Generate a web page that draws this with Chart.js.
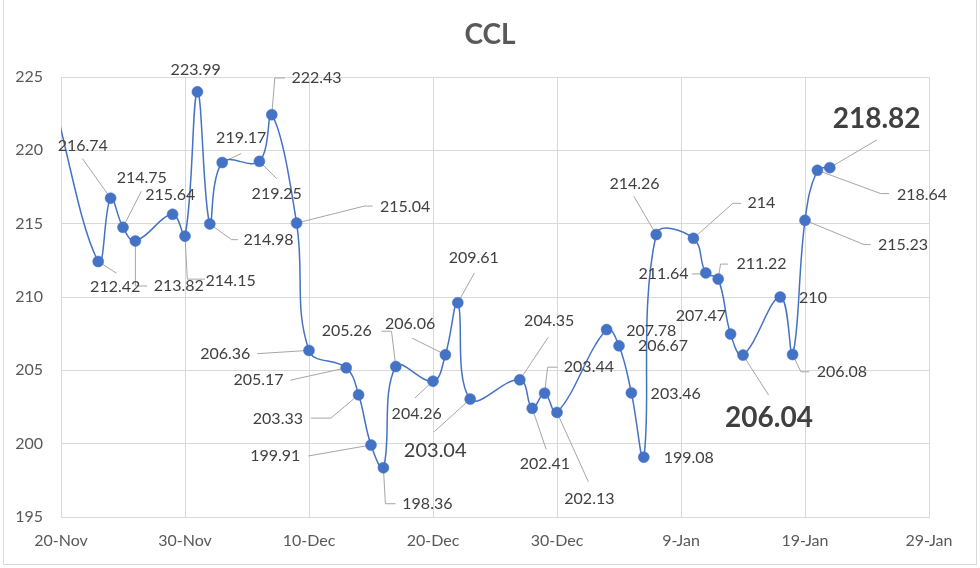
<!DOCTYPE html>
<html><head><meta charset="utf-8">
<script src="https://cdn.jsdelivr.net/npm/chart.js@4.4.1/dist/chart.umd.min.js"></script>
<style>html,body{margin:0;padding:0;background:#fff}#wrap{width:980px;height:568px;position:relative}canvas{display:block}</style>
</head><body><div id="wrap"><canvas id="c" width="980" height="568"></canvas></div>
<script>
// ---- data ----
const chartTitle = 'CCL';
const dates = ['2021-11-19','2021-11-23','2021-11-24','2021-11-25','2021-11-26','2021-11-29','2021-11-30',
  '2021-12-01','2021-12-02','2021-12-03','2021-12-06','2021-12-07','2021-12-09','2021-12-10',
  '2021-12-13','2021-12-14','2021-12-15','2021-12-16','2021-12-17','2021-12-20','2021-12-21',
  '2021-12-22','2021-12-23','2021-12-27','2021-12-28','2021-12-29','2021-12-30',
  '2022-01-03','2022-01-04','2022-01-05','2022-01-06','2022-01-07','2022-01-10','2022-01-11',
  '2022-01-12','2022-01-13','2022-01-14','2022-01-17','2022-01-18','2022-01-19','2022-01-20','2022-01-21'];
const values = [224.8,212.42,216.74,214.75,213.82,215.64,214.15,
  223.99,214.98,219.17,219.25,222.43,215.04,206.36,
  205.17,203.33,199.91,198.36,205.26,204.26,206.06,
  209.61,203.04,204.35,202.41,203.44,202.13,
  207.78,206.67,203.46,199.08,214.26,214,211.64,
  211.22,207.47,206.04,210,206.08,215.23,218.64,218.82];
const xTickLabels = ['20-Nov','30-Nov','10-Dec','20-Dec','30-Dec','9-Jan','19-Jan','29-Jan'];
const yMin = 195, yMax = 225, yStep = 5;
const axisStartDate = '2021-11-20';
const xStep = 10;

// ---- label placement (style only) ----
const N = {f:'16px Lato', c:'#404040'};
const labelLayout = [
  null,
  {dx:17,dy:25.7,lead:[[0,0],[18.3,11.7]]},
  {dx:-27.8,dy:-52,lead:[[0,0],[-28.3,-39.7]]},
  {dx:18.8,dy:-49.7,lead:[[0,0],[18.3,-36]]},
  {dx:43.4,dy:45,lead:[[0,0],[0,45],[11.7,45]]},
  {dx:-2.3,dy:-19.7},
  {dx:45.6,dy:45,lead:[[0,0],[2.3,43],[20,43]]},
  {dx:-1.7,dy:-22.3},
  {dx:58.7,dy:15.7,lead:[[0,0],[21.7,15.7],[28,15.7]]},
  {dx:19,dy:-24.3,lead:[[0,0],[19,-9]]},
  {dx:17.3,dy:32.3,lead:[[0,0],[17.3,17.3]]},
  {dx:44.7,dy:-36.7,lead:[[0,0],[3,-36.7],[13,-36.7]]},
  {dx:108.5,dy:-16,lead:[[0,0],[67.7,-17],[76,-17]]},
  {dx:-83.7,dy:3.3,lead:[[0,0],[-51.7,3.3]]},
  {dx:-87.7,dy:12.3,lead:[[0,0],[-55.7,12.3]]},
  {dx:-80.7,dy:23.6,lead:[[0,0],[-27.7,23.3],[-47.7,23.3]]},
  {dx:-95.7,dy:11,lead:[[0,0],[-62.7,11]]},
  {dx:44,dy:36,lead:[[0,0],[2,36],[12,36]]},
  {dx:-49,dy:-35.3,lead:[[0,0],[-4.3,-35.3],[-14.3,-35.3]]},
  {dx:-16.3,dy:32.7,lead:[[0,0],[-18,16.7]]},
  {dx:-35.3,dy:-31,lead:[[0,0],[-33.3,-16.7]]},
  {dx:16,dy:-45.3,lead:[[0,0],[16.6,-29.7]]},
  {dx:-35,dy:51.7,lead:[[0,0],[-36,32.7]],font:'20px Lato'},
  {dx:29.4,dy:-58.6,lead:[[0,0],[28.4,-42.6]]},
  {dx:12.7,dy:55.4,lead:[[0,0],[14,41]]},
  {dx:44.3,dy:-26,lead:[[0,0],[3,-26],[13,-26]]},
  {dx:32.4,dy:86,lead:[[0,0],[31.4,69.4]]},
  {dx:44.7,dy:1},
  {dx:44,dy:0},
  {dx:44.3,dy:0.6},
  {dx:45,dy:0.7},
  {dx:-21.7,dy:-51,lead:[[0,0],[-22.4,-38.3]]},
  {dx:68,dy:-35,lead:[[0,0],[39.4,-35],[47.7,-35]]},
  {dx:-42.3,dy:1,lead:[[0,1],[-14,1]]},
  {dx:43.3,dy:-15,lead:[[0,0],[2.3,-15],[10,-15]]},
  {dx:-29.7,dy:-18.3},
  {dx:26,dy:63,lead:[[0,0],[25.6,40]],font:'bold 28px Lato'},
  {dx:32.8,dy:0.6},
  {dx:49.3,dy:17.3,lead:[[0,0],[8.3,17.3],[16.6,17.3]]},
  {dx:98,dy:25,lead:[[0,0],[59,24.3],[65.7,24.3]]},
  {dx:104.6,dy:24.3,lead:[[0,0],[63.3,23.3],[71.6,23.3]]},
  {dx:46.8,dy:-48.4,lead:[[0,0],[47,-27.7]],font:'bold 28px Lato'}
];

const dayMs = 86400000;
const t0 = Date.parse(axisStartDate + 'T00:00:00Z');
const points = dates.map((d, i) => ({x: (Date.parse(d + 'T00:00:00Z') - t0) / dayMs, y: values[i]}));
const xMax = (xTickLabels.length - 1) * xStep;

const frame = {
  id: 'frame',
  beforeDraw(chart) {
    const c = chart.ctx;
    c.save();
    c.fillStyle = '#fff';
    c.fillRect(0, 0, chart.width, chart.height);
    c.strokeStyle = '#d9d9d9';
    c.lineWidth = 1;
    c.strokeRect(3.5, -0.5, 973, 565);
    c.restore();
  },
  afterDraw(chart) {
    const c = chart.ctx;
    c.save();
    c.font = 'bold 28px Lato';
    c.fillStyle = '#595959';
    c.textAlign = 'center';
    c.textBaseline = 'middle';
    c.fillText(chartTitle, 490, 35);
    c.restore();
  }
};

const pointLabels = {
  id: 'pointLabels',
  beforeDatasetsDraw(chart) {
    const meta = chart.getDatasetMeta(0);
    const c = chart.ctx;
    c.save();
    c.strokeStyle = '#a6a6a6';
    c.lineWidth = 1;
    meta.data.forEach((el, i) => {
      const L = labelLayout[i];
      if (!L || !L.lead) return;
      c.beginPath();
      L.lead.forEach((p, k) => {
        const px = el.x + p[0], py = el.y + p[1];
        if (k === 0) c.moveTo(px, py); else c.lineTo(px, py);
      });
      c.stroke();
    });
    c.restore();
  },
  afterDatasetsDraw(chart) {
    const meta = chart.getDatasetMeta(0);
    const c = chart.ctx;
    c.save();
    c.textAlign = 'center';
    c.textBaseline = 'middle';
    meta.data.forEach((el, i) => {
      const L = labelLayout[i];
      if (!L) return;
      c.font = L.font || N.f;
      c.fillStyle = N.c;
      c.fillText(String(values[i]), el.x + L.dx, el.y + L.dy);
    });
    c.restore();
  }
};

new Chart(document.getElementById('c'), {
  type: 'line',
  data: {
    datasets: [{
      data: points,
      borderColor: '#4472C4',
      borderWidth: 1.5,
      backgroundColor: '#4472C4',
      pointBackgroundColor: '#4472C4',
      pointBorderColor: '#4472C4',
      pointBorderWidth: 0.5,
      pointRadius: ctx => ctx.dataIndex === 0 ? 0 : 5.5,
      tension: 0.4,
      fill: false
    }]
  },
  options: {
    responsive: false,
    animation: false,
    devicePixelRatio: 1,
    layout: {padding: {left: 0, right: 51, top: 77, bottom: 20}},
    plugins: {
      legend: {display: false},
      tooltip: {enabled: false},
      title: {display: false}
    },
    scales: {
      x: {
        type: 'linear', min: 0, max: xMax,
        afterFit(s) { s.height = 31; },
        ticks: {
          stepSize: xStep, padding: 14, color: '#595959', maxRotation: 0, autoSkip: false,
          font: {family: 'Lato', size: 16},
          callback: (v) => xTickLabels[Math.round(v / xStep)]
        },
        grid: {color: '#d9d9d9', drawTicks: false, lineWidth: 1},
        border: {display: true, color: '#d9d9d9'}
      },
      y: {
        min: yMin, max: yMax,
        afterFit(s) { s.width = 61; },
        ticks: {stepSize: yStep, padding: 18, color: '#595959', font: {family: 'Lato', size: 16}},
        grid: {color: '#d9d9d9', drawTicks: false, lineWidth: 1},
        border: {display: true, color: '#d9d9d9'}
      }
    }
  },
  plugins: [frame, pointLabels]
});
</script>
</body></html>
